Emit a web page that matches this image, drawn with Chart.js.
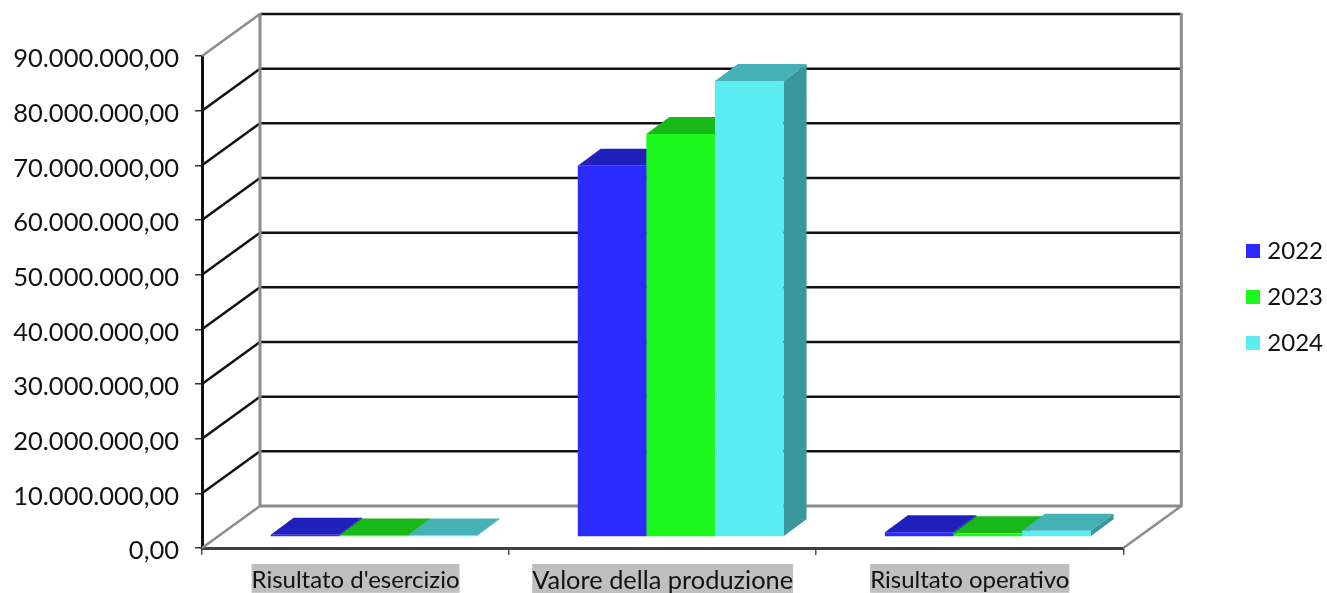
<!DOCTYPE html>
<html>
<head>
<meta charset="utf-8">
<style>html,body{margin:0;padding:0;background:#fff}canvas{display:block}</style>
<script src="https://cdn.jsdelivr.net/npm/chart.js@4/dist/chart.umd.min.js"></script>
</head>
<body>
<canvas id="c" width="1327" height="593"></canvas>
<script>
const categories = ["Risultato d'esercizio", "Valore della produzione", "Risultato operativo"];
const series2022 = [400000, 67900000, 850000];
const series2023 = [280000, 73700000, 700000];
const series2024 = [280000, 83400000, 1150000];
const seriesNames = ["2022", "2023", "2024"];
const frontColors = ["#2B2BFF", "#1DF91F", "#5BEDF2"];
const topColors = ["#2020BD", "#17B817", "#45B0B5"];
const sideColors = ["#1C1CA0", "#129A14", "#3A979B"];

const FONT = "Lato";
const WALL = {dx: 58, dy: 42};
const BAR = {dx: 18, dy: 11, depthX: 23, depthY: 17};

function fmt(v) {
  const s = String(Math.round(v)).replace(/\B(?=(\d{3})+(?!\d))/g, ".");
  return s + ",00";
}
function line(ctx, x1, y1, x2, y2, color, w) {
  ctx.strokeStyle = color; ctx.lineWidth = w;
  ctx.beginPath(); ctx.moveTo(x1, y1); ctx.lineTo(x2, y2); ctx.stroke();
}
function poly(ctx, pts, color) {
  ctx.fillStyle = color; ctx.beginPath();
  pts.forEach((p, i) => i ? ctx.lineTo(p[0], p[1]) : ctx.moveTo(p[0], p[1]));
  ctx.closePath(); ctx.fill();
}

const walls3d = {
  id: "walls3d",
  afterLayout(chart) {
    const lg = chart.legend;
    const h = lg.bottom - lg.top;
    const pad = lg.options.labels.padding;
    lg.left = 1246 - pad;
    lg.right = 1323;
    lg.top = 244 - pad - 5;
    lg.bottom = lg.top + h;
  },
  beforeDatasetsDraw(chart) {
    const {ctx, scales: {x, y}} = chart;
    const L = x.left, R = x.right;
    const gray = "#8C8C8C", black = "#111111";
    ctx.save();
    ctx.lineCap = "butt";
    y.ticks.forEach((t, i) => {
      const py = y.getPixelForTick(i);
      const isEdge = i === 0;
      const isTop = i === y.ticks.length - 1;
      line(ctx, L + WALL.dx, py - WALL.dy, R + WALL.dx, py - WALL.dy, isEdge ? gray : black, isEdge ? 3 : 2.5);
      line(ctx, L, py, L + WALL.dx, py - WALL.dy, (isEdge || isTop) ? gray : black, 2.5);
    });
    const b = y.getPixelForValue(0), t = y.getPixelForValue(90000000);
    line(ctx, L + WALL.dx, b - WALL.dy, L + WALL.dx, t - WALL.dy - 1, gray, 3);
    line(ctx, R + WALL.dx, b - WALL.dy + 1, R + WALL.dx, t - WALL.dy - 1, gray, 3);
    line(ctx, R, b, R + WALL.dx, b - WALL.dy, gray, 2.5);
    // depth faces of the bars, back to front, from the library's own bar elements
    ctx.translate(BAR.dx, -BAR.dy);
    seriesNames.forEach((n, i) => {
      chart.getDatasetMeta(i).data.forEach(el => {
        const p = el.getProps(["x", "y", "base", "width"], true);
        const l = p.x - p.width / 2, r = p.x + p.width / 2;
        const dx = BAR.depthX, dy = BAR.depthY;
        poly(ctx, [[r, p.y], [r + dx, p.y - dy], [r + dx, p.base - dy], [r, p.base]], sideColors[i]);
        poly(ctx, [[l, p.y], [l + dx, p.y - dy], [r + dx, p.y - dy], [r, p.y]], topColors[i]);
      });
    });
    ctx.restore();
  },
  beforeDatasetDraw(chart) {
    chart.ctx.save();
    chart.ctx.translate(BAR.dx, -BAR.dy);
  },
  afterDatasetDraw(chart) {
    chart.ctx.restore();
  }
};

const seriesValues = [series2022, series2023, series2024];
new Chart(document.getElementById("c"), {
  type: "bar",
  data: {
    labels: categories,
    datasets: seriesNames.map((n, i) => ({
      label: n,
      data: seriesValues[i],
      backgroundColor: frontColors[i],
      borderWidth: 0,
      clip: false,
      categoryPercentage: 0.67,
      barPercentage: 1
    }))
  },
  options: {
    responsive: false,
    animation: false,
    devicePixelRatio: 1,
    layout: {padding: {top: 56, left: 0, right: 90, bottom: 0}},
    plugins: {
      legend: {
        position: "right",
        align: "start",
        labels: {
          boxWidth: 14, boxHeight: 14, padding: 22, textAlign: "right",
          color: "#111", font: {family: FONT, size: 24}
        }
      },
      tooltip: {enabled: false}
    },
    scales: {
      x: {
        afterFit(s) { s.height = 45; },
        border: {color: "#404040", width: 3},
        grid: {drawOnChartArea: false, drawTicks: true, tickLength: 7, color: "#555", lineWidth: 1.5},
        ticks: {
          color: "#111",
          font: c => ({family: FONT, size: c.index === 1 ? 25.4 : 24}),
          padding: 11, maxRotation: 0, autoSkip: false,
          showLabelBackdrop: true, backdropColor: "#BFBFBF", backdropPadding: {top: 2, bottom: -2, left: 0, right: 0}
        }
      },
      y: {
        min: 0, max: 90000000,
        afterFit(s) { s.width = 202; },
        border: {color: "#111", width: 3},
        grid: {drawOnChartArea: false, drawTicks: true, tickLength: 7, color: "#333", lineWidth: 1.5},
        ticks: {
          stepSize: 10000000, color: "#111", font: {family: FONT, size: 25.5}, padding: 16, labelOffset: 3,
          callback: v => fmt(v)
        }
      }
    }
  },
  plugins: [walls3d]
});
</script>
</body>
</html>
